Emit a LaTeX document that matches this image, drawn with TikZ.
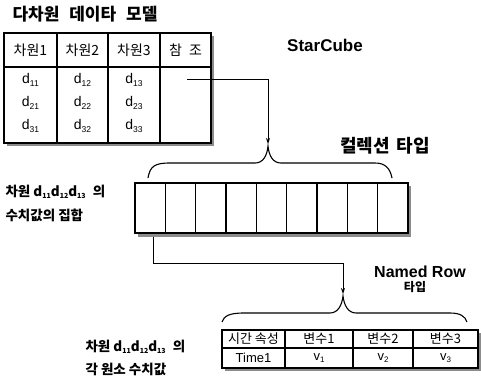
\documentclass[tikz,border=0pt]{standalone}
\usepackage{fontspec}
\setmainfont{Liberation Sans}
\newfontfamily\kr{Noto Sans CJK KR}
\usetikzlibrary{arrows.meta}
\newcommand{\dd}[1]{d\raisebox{-3pt}{\fontsize{8.5}{8.5}\selectfont #1}}
\newcommand{\bd}[1]{\textbf{d}\raisebox{-2.5pt}{\fontsize{7}{7}\selectfont\bfseries #1}}
\begin{document}
\begin{tikzpicture}[x=1pt,y=-1pt, line width=1.1pt,
  shadow/.style={fill=black!45, draw=none},
  cellbox/.style={fill=white, draw=black},
  hdr/.style={inner sep=0pt, font=\kr\fontsize{14}{14}\selectfont},
  val/.style={inner sep=0pt, font=\fontsize{14}{14}\selectfont},
  ttl/.style={inner sep=0pt, font=\kr\bfseries\fontsize{17}{17}\selectfont},
  side/.style={inner sep=0pt, anchor=west, font=\kr\bfseries\fontsize{13.5}{13.5}\selectfont},
  lat/.style={inner sep=0pt, font=\bfseries\fontsize{16}{16}\selectfont},
  conn/.style={line width=1pt, -{Stealth[length=6pt,width=4pt]}},
  brace/.style={line width=1.1pt}]
\useasboundingbox (0,0) rectangle (481,386);

% title
\node[ttl, anchor=west] (title) at (12,14) {다차원\hspace{6pt} 데이타\hspace{6pt} 모델};

% table 1
\fill[shadow] (7,36) rectangle (214,146);
\draw[cellbox] (4,33) rectangle (211,143);
\draw[line width=1.8pt] (4,67) -- (211,67);
\draw (57,33) -- (57,143) (108,33) -- (108,143) (160,33) -- (160,143);
\node[hdr] (h1) at (30.5,50) {차원1};
\node[hdr] (h2) at (82.5,50) {차원2};
\node[hdr] (h3) at (134,50) {차원3};
\node[hdr] (h4) at (185.5,50) {참\hspace{7pt}조};
\node[val] (d11) at (30.5,80) {\dd{11}};
\node[val] (d21) at (30.5,103) {\dd{21}};
\node[val] (d31) at (30.5,126) {\dd{31}};
\node[val] (d12) at (82.5,80) {\dd{12}};
\node[val] (d22) at (82.5,103) {\dd{22}};
\node[val] (d32) at (82.5,126) {\dd{32}};
\node[val] (d13) at (134,80) {\dd{13}};
\node[val] (d23) at (134,103) {\dd{23}};
\node[val] (d33) at (134,126) {\dd{33}};

\node[lat, font=\bfseries\fontsize{17}{17}\selectfont] (star) at (325,45) {StarCube};

% connector 1
\coordinate (a1) at (187,79);
\coordinate (a1c) at (268,79);
\coordinate (tip1) at (268,144);
\draw[conn] (a1) -- (a1c) -- (tip1);

% brace 1
\draw[brace] (148,178) .. controls (150,166) and (155,163) .. (170,163) -- (255,163)
  .. controls (263,163) and (267,156) .. (268,146)
  .. controls (269,156) and (273,163) .. (281,163) -- (375,163)
  .. controls (385,163) and (390,168) .. (392,178);
\node[ttl, font=\kr\bfseries\fontsize{18}{18}\selectfont] (coll) at (385,146) {컬렉션\hspace{3pt} 타입};

% collection boxes
\fill[shadow] (138,186) rectangle (411,237);
\draw[cellbox] (135,183) rectangle (408,233);
\foreach \i in {1,...,8} {
  \draw ({135+\i*30.33},183) -- ({135+\i*30.33},233);
}
\node[side] (s1) at (5,192) {차원 \bd{11}\bd{12}\bd{13} \hspace{4pt}의};
\node[side] (s2) at (5,215) {수치값의 집합};

% connector 2
\coordinate (b1) at (153,237);
\coordinate (b2) at (153,263);
\coordinate (b3) at (343,263);
\coordinate (tip2) at (343,294);
\draw[conn] (b1) -- (b2) -- (b3) -- (tip2);

% brace 2
\draw[brace] (222,322) .. controls (224,316) and (229,313) .. (244,313) -- (330,313)
  .. controls (338,313) and (342,305) .. (343,296)
  .. controls (344,305) and (348,313) .. (356,313) -- (450,313)
  .. controls (460,313) and (465,316) .. (467,322);
\node[lat] (nr) at (420,272) {Named Row};
\node[ttl, font=\kr\bfseries\fontsize{12}{12}\selectfont] (tp) at (415,287) {타입};

% bottom table
\fill[shadow] (225,333) rectangle (481,371);
\draw[cellbox] (222,330) rectangle (478,368);
\draw (222,348) -- (478,348);
\draw (285,330) -- (285,368) (353,330) -- (353,368) (413,330) -- (413,368);
\node[hdr, font=\kr\fontsize{13}{13}\selectfont] (t1) at (253.5,339) {시간 속성};
\node[hdr, font=\kr\fontsize{13}{13}\selectfont] (t2) at (319,339) {변수1};
\node[hdr, font=\kr\fontsize{13}{13}\selectfont] (t3) at (383,339) {변수2};
\node[hdr, font=\kr\fontsize{13}{13}\selectfont] (t4) at (445.5,339) {변수3};
\node[val, font=\fontsize{13}{13}\selectfont] (u1) at (253.5,358) {Time1};
\node[val, font=\fontsize{13}{13}\selectfont] (u2) at (319,358) {v\raisebox{-2.5pt}{\fontsize{8}{8}\selectfont 1}};
\node[val, font=\fontsize{13}{13}\selectfont] (u3) at (383,358) {v\raisebox{-2.5pt}{\fontsize{8}{8}\selectfont 2}};
\node[val, font=\fontsize{13}{13}\selectfont] (u4) at (445.5,358) {v\raisebox{-2.5pt}{\fontsize{8}{8}\selectfont 3}};

\node[side] (s3) at (85,347) {차원 \bd{11}\bd{12}\bd{13} \hspace{4pt}의};
\node[side] (s4) at (85,369) {각 원소 수치값};
\end{tikzpicture}
\end{document}
